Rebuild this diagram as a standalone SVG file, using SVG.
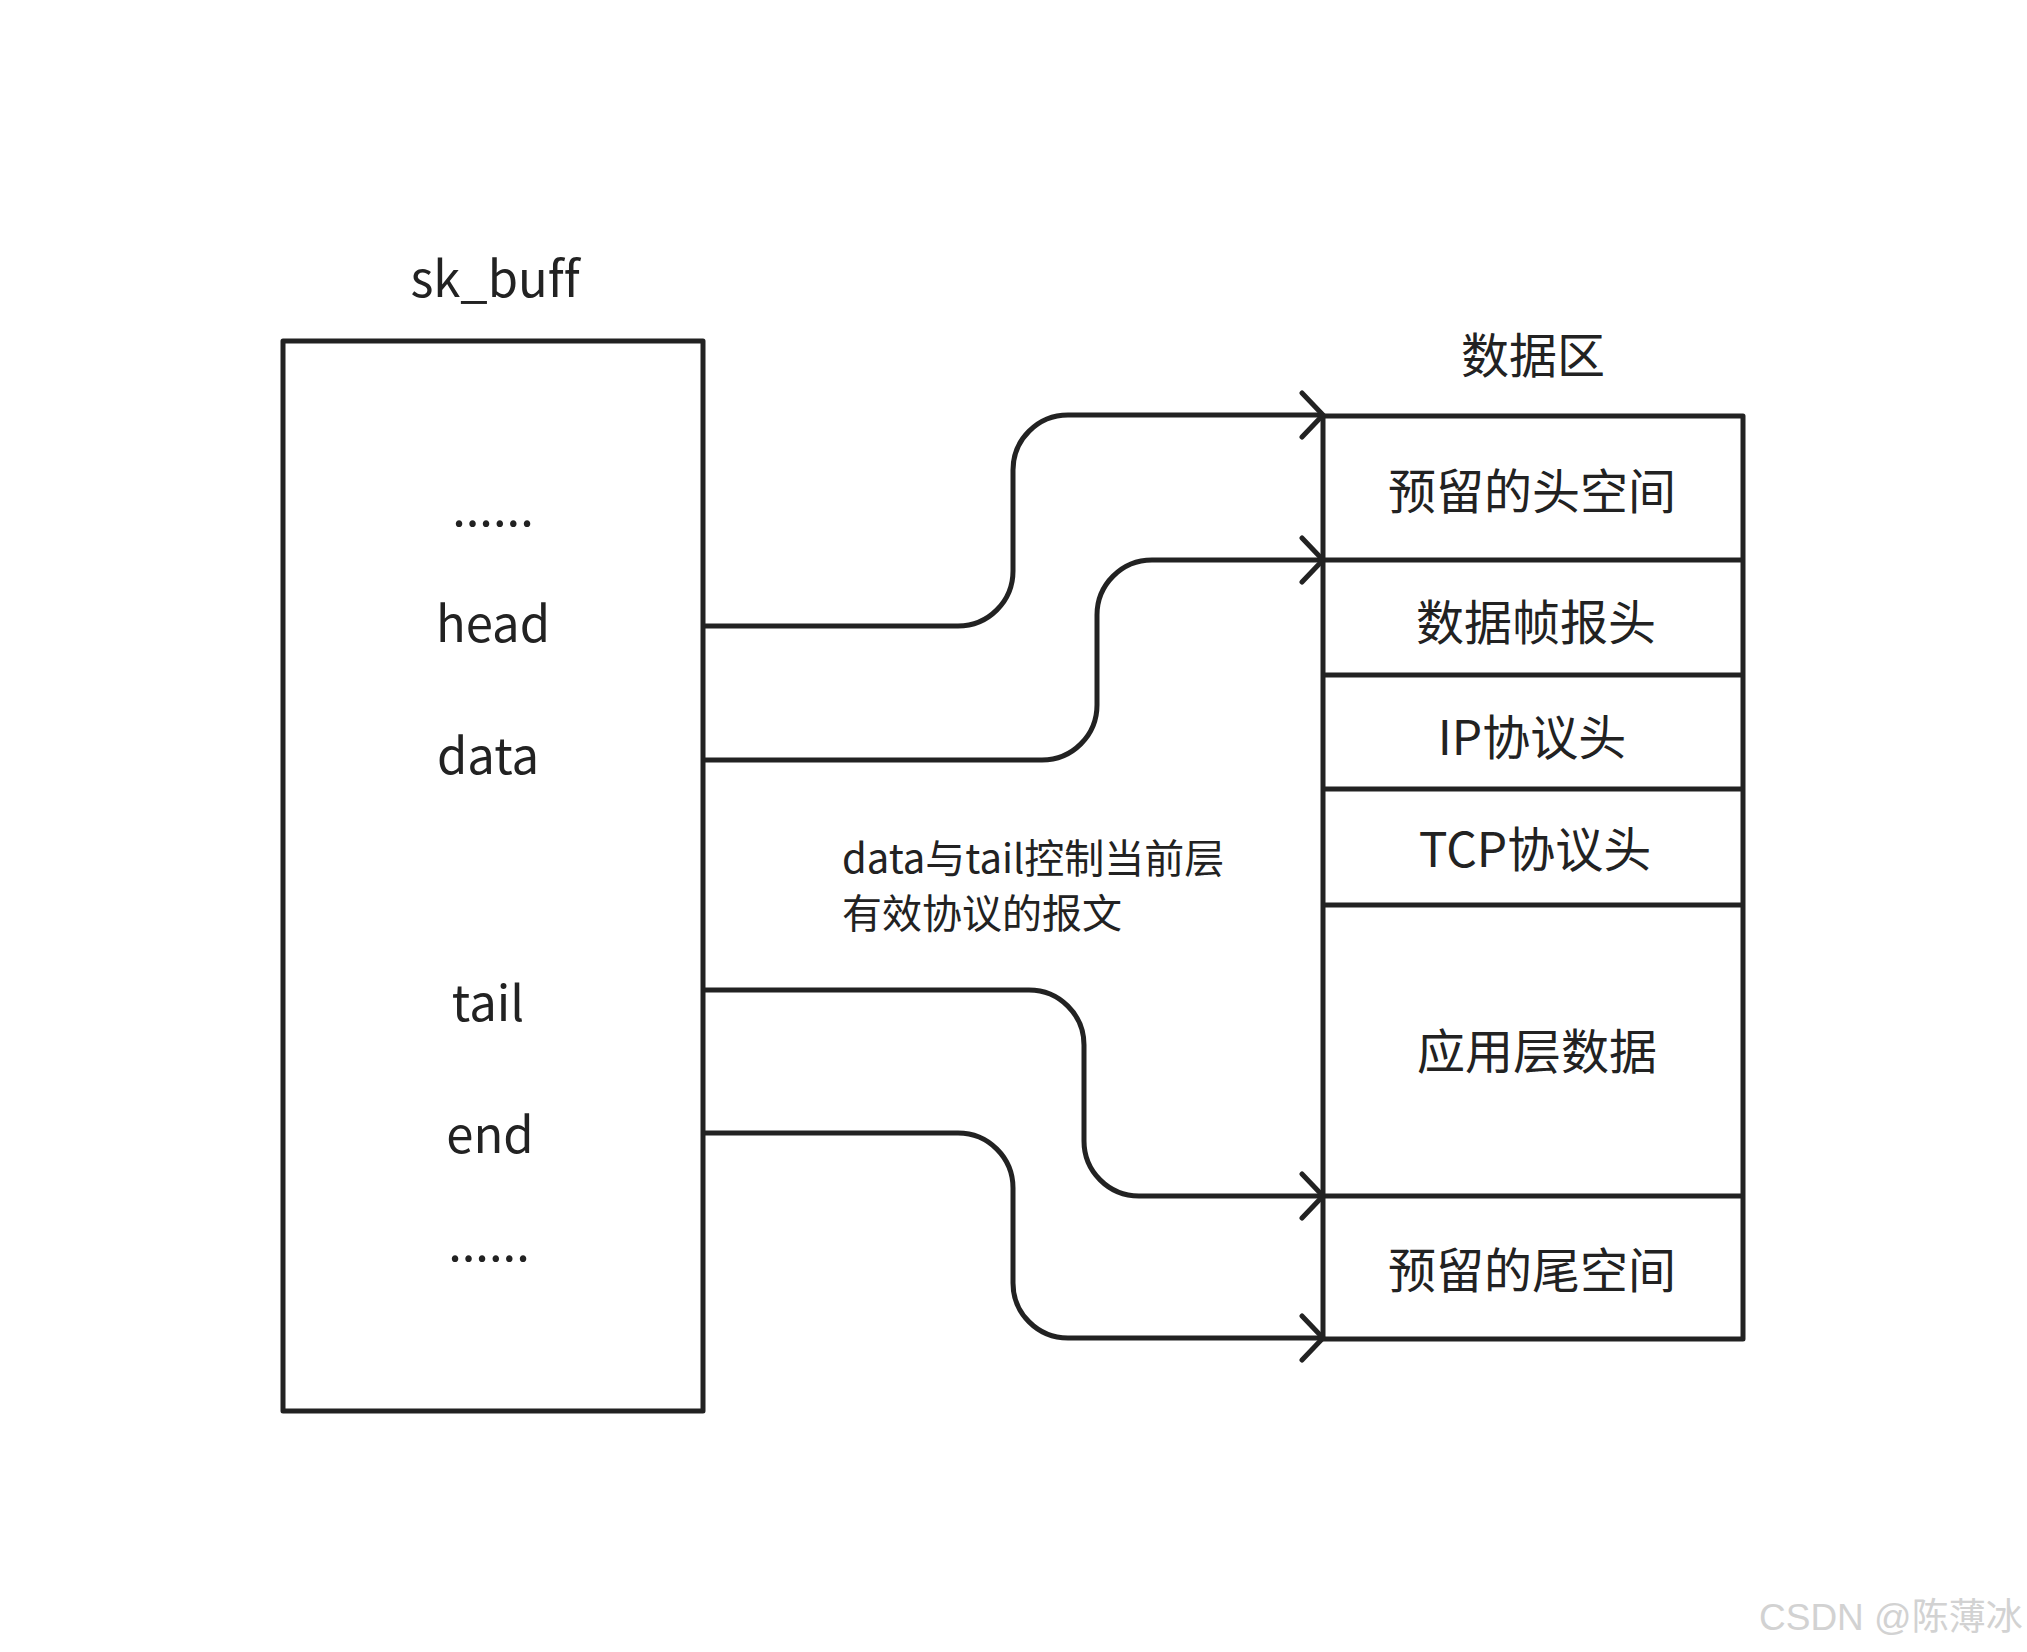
<svg xmlns="http://www.w3.org/2000/svg" width="2027" height="1652" viewBox="0 0 2027 1652">
<style>
.box{fill:none;stroke:#222;stroke-width:5;stroke-linejoin:round}
.ln{fill:none;stroke:#222;stroke-width:5}
.con{fill:none;stroke:#222;stroke-width:5;marker-end:url(#arr)}
.t{font-family:"Noto Sans CJK SC","Noto Sans",sans-serif;fill:#222;text-anchor:middle;font-variant-ligatures:none}
.lbl{font-size:49px}
.cell{font-size:48px}
.note{font-family:"Noto Sans CJK SC","Noto Sans",sans-serif;fill:#222;font-size:40px}
.wm{font-family:"Liberation Sans","Noto Sans CJK SC",sans-serif;font-size:37px;fill:#d2d2d2}
</style>
<defs>
<marker id="arr" markerUnits="userSpaceOnUse" viewBox="0 0 30 50" markerWidth="30" markerHeight="50" refX="25" refY="25" orient="auto">
<path d="M4,3 L25,25 L4,47" fill="none" stroke="#222" stroke-width="5" stroke-linecap="round" stroke-linejoin="round"/>
</marker>
</defs>
<rect width="2027" height="1652" fill="#fff"/>

<g id="sk_buff">
<text class="t lbl" x="495" y="297">sk_buff</text>
<rect class="box" x="283" y="341" width="420" height="1070"/>
<text class="t lbl" x="493" y="526">......</text>
<text class="t lbl" x="493" y="642">head</text>
<text class="t lbl" x="488" y="774">data</text>
<text class="t lbl" x="488" y="1021">tail</text>
<text class="t lbl" x="490" y="1153">end</text>
<text class="t lbl" x="489" y="1261">......</text>
</g>

<g id="data_area">
<text class="t cell" x="1533" y="373">数据区</text>
<rect class="box" x="1323" y="416" width="420" height="923"/>
<g id="cell_headroom">
<text class="t cell" x="1532" y="509">预留的头空间</text>
</g>
<line class="ln" x1="1323" y1="560" x2="1743" y2="560"/>
<g id="cell_mac">
<text class="t cell" x="1536" y="640">数据帧报头</text>
</g>
<line class="ln" x1="1323" y1="675" x2="1743" y2="675"/>
<g id="cell_ip">
<text class="t cell" x="1532" y="755">IP协议头</text>
</g>
<line class="ln" x1="1323" y1="789" x2="1743" y2="789"/>
<g id="cell_tcp">
<text class="t cell" x="1535" y="867">TCP协议头</text>
</g>
<line class="ln" x1="1323" y1="905" x2="1743" y2="905"/>
<g id="cell_app">
<text class="t cell" x="1537" y="1069">应用层数据</text>
</g>
<line class="ln" x1="1323" y1="1196" x2="1743" y2="1196"/>
<g id="cell_tailroom">
<text class="t cell" x="1532" y="1288">预留的尾空间</text>
</g>
</g>

<g id="note">
<text class="note" x="842" y="873">data与tail控制当前层</text>
<text class="note" x="842" y="928">有效协议的报文</text>
</g>

<g id="connectors">
<path class="con" d="M703,626 H958 A55,55 0 0 0 1013,571 V470 A55,55 0 0 1 1068,415 H1323"/>
<path class="con" d="M703,760 H1042 A55,55 0 0 0 1097,705 V615 A55,55 0 0 1 1152,560 H1323"/>
<path class="con" d="M703,990 H1029 A55,55 0 0 1 1084,1045 V1141 A55,55 0 0 0 1139,1196 H1323"/>
<path class="con" d="M703,1133 H958 A55,55 0 0 1 1013,1188 V1283 A55,55 0 0 0 1068,1338 H1323"/>
</g>

<text class="wm" x="1759" y="1630">CSDN @陈薄冰</text>
</svg>
